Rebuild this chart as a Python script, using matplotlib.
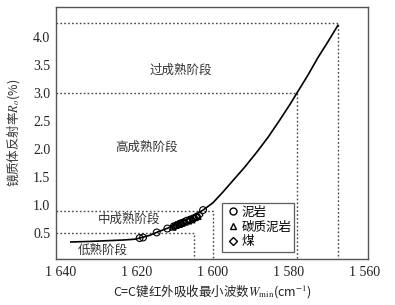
import matplotlib
matplotlib.use("Agg")
import matplotlib.pyplot as plt
from matplotlib.lines import Line2D

plt.rcParams['font.family'] = ['Noto Sans CJK SC', 'DejaVu Sans']
plt.rcParams['mathtext.fontset'] = 'stix'

# fitted trend line
curve_w = [1637.4, 1632.4, 1627.1, 1623.7, 1620.5, 1618.7, 1616.6, 1614.5,
           1611.8, 1609.2, 1606.6, 1604.5, 1602.6, 1600.0, 1597.4, 1594.7,
           1591.6, 1588.4, 1585.5, 1582.4, 1579.7, 1577.9, 1575.0, 1572.4,
           1569.7, 1567.1]
curve_ro = [0.34, 0.35, 0.365, 0.375, 0.39, 0.42, 0.46, 0.52,
            0.59, 0.66, 0.75, 0.83, 0.91, 1.04, 1.23, 1.44,
            1.68, 1.95, 2.21, 2.52, 2.80, 3.0, 3.32, 3.63,
            3.92, 4.21]

# samples
mud_w = [1619.3, 1618.4, 1614.8, 1612.0, 1610.3, 1609.5, 1608.6, 1607.7,
         1606.9, 1606.0, 1605.2, 1604.2, 1602.6]
mud_ro = [0.41, 0.42, 0.51, 0.58, 0.62, 0.64, 0.67, 0.69,
          0.72, 0.74, 0.76, 0.79, 0.91]
carb_w = [1610.6, 1609.8, 1608.9, 1608.2, 1607.4, 1606.5, 1605.6, 1604.8, 1604.0]
carb_ro = [0.61, 0.64, 0.66, 0.68, 0.70, 0.72, 0.74, 0.78, 0.80]
coal_w = [1610.0, 1609.2, 1608.4, 1607.8, 1606.1, 1605.0, 1604.4, 1603.6]
coal_ro = [0.62, 0.65, 0.67, 0.69, 0.73, 0.76, 0.79, 0.82]

# stage boundaries (Ro, W)
bound_ro = [0.5, 0.9, 3.0, 4.25]
bound_w = [1605.0, 1600.0, 1578.0, 1567.0]

stage_names = ["低熟阶段", "中成熟阶段", "高成熟阶段", "过成熟阶段"]
stage_w = [1628.9, 1622.1, 1617.4, 1608.4]
stage_ro = [0.20, 0.75, 2.04, 3.41]

xticks = [1640, 1620, 1600, 1580, 1560]
xticklabels = ["1 640", "1 620", "1 600", "1 580", "1 560"]
yticks = [0.5, 1.0, 1.5, 2.0, 2.5, 3.0, 3.5, 4.0]

fig = plt.figure(figsize=(3.95, 3.05), dpi=100)
ax = fig.add_axes([0.1418, 0.1508, 0.7898, 0.8262])

x_left, x_right = 1641.3, 1559.2
y_bot, y_top = 0.036, 4.536
ax.set_xlim(x_left, x_right)
ax.set_ylim(y_bot, y_top)

for r, w in zip(bound_ro, bound_w):
    ax.plot([x_left, w, w], [r, r, y_bot], linestyle=(0, (1.2, 1.6)),
            color='#444444', linewidth=1.0, zorder=1)

ax.plot(curve_w, curve_ro, color='black', linewidth=1.2, zorder=2,
        solid_joinstyle='round')

mk = dict(facecolors='none', edgecolors='black', linewidths=0.8, zorder=3)
ax.scatter(mud_w, mud_ro, marker='o', s=24, **mk)
ax.scatter(carb_w, carb_ro, marker='^', s=22, **mk)
ax.scatter(coal_w, coal_ro, marker='D', s=15, **mk)

for name, w, r in zip(stage_names, stage_w, stage_ro):
    ax.text(w, r, name, fontsize=9, color='#333333', ha='center', va='center')

ax.set_xticks(xticks)
ax.set_xticklabels(xticklabels, family='Liberation Serif', fontsize=10)
ax.set_yticks(yticks)
ax.set_yticklabels([f"{v:.1f}" for v in yticks], family='Liberation Serif', fontsize=10)
ax.tick_params(axis='x', length=0, pad=5, colors='#222222')
ax.tick_params(axis='y', length=0, pad=4, colors='#222222')
for s in ax.spines.values():
    s.set_color('#555555')
    s.set_linewidth(1.0)

ax.set_ylabel("镜质体反射率$R_o$(%)", fontsize=9, color='#333333', labelpad=8)
ax.set_xlabel("C=C键红外吸收最小波数$W_{\\rm min}$(cm$^{-1}$)", fontsize=9,
              color='#222222', labelpad=2)

handles = [
    Line2D([], [], marker='o', linestyle='none', markerfacecolor='none',
           markeredgecolor='black', markersize=5),
    Line2D([], [], marker='^', linestyle='none', markerfacecolor='none',
           markeredgecolor='black', markersize=5),
    Line2D([], [], marker='D', linestyle='none', markerfacecolor='none',
           markeredgecolor='black', markersize=4),
]
leg = ax.legend(handles, ["泥岩", "碳质泥岩", "煤"], loc='upper left',
                bbox_to_anchor=(0.532, 0.224), fontsize=9, frameon=True,
                fancybox=False, edgecolor='#333333', borderpad=0.25,
                handletextpad=0.1, labelspacing=0.15, handlelength=1.2,
                borderaxespad=0)
leg.get_frame().set_linewidth(0.9)

fig.savefig("out.png", dpi=100)
